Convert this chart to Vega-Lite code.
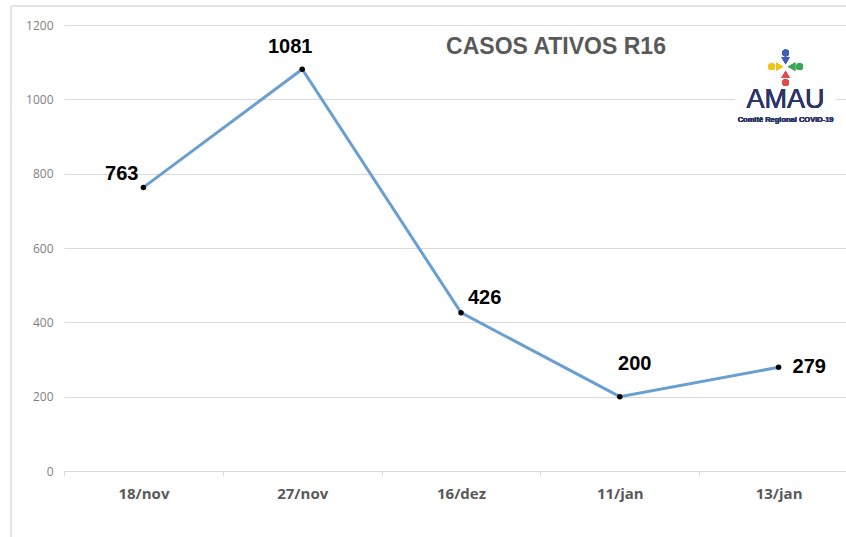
{
  "$schema": "https://vega.github.io/schema/vega-lite/v6.json",
  "width": 794,
  "height": 446,
  "autosize": {"type": "none"},
  "padding": {"left": 64, "top": 25, "right": 0, "bottom": 66},
  "background": "white",
  "config": {"view": {"stroke": null}, "font": "Liberation Sans"},
  "title": {"text": "CASOS ATIVOS R16", "fontSize": 23, "fontWeight": "bold", "color": "#595959", "anchor": "middle", "dx": 95, "dy": 54, "offset": 0, "frame": "group", "font": "Liberation Sans"},
  "data": {"values": [
    {"data": "18/nov", "casos": 763},
    {"data": "27/nov", "casos": 1081},
    {"data": "16/dez", "casos": 426},
    {"data": "11/jan", "casos": 200},
    {"data": "13/jan", "casos": 279}
  ]},
  "encoding": {
    "x": {"field": "data", "type": "nominal", "sort": null,
      "scale": {"type": "band", "domain": ["18/nov", "27/nov", "16/dez", "11/jan", "13/jan"], "paddingInner": 0, "paddingOuter": 0},
      "axis": {"title": null, "labelAngle": 0, "domainColor": "#d9d9d9", "tickColor": "#d9d9d9", "tickBand": "extent", "tickSize": 5, "labelFont": "Open Sans", "labelFontSize": 15, "labelFontWeight": "bold", "labelColor": "#595959", "labelPadding": 10, "grid": false}},
    "y": {"field": "casos", "type": "quantitative",
      "scale": {"domain": [0, 1200]},
      "axis": {"title": null, "domain": false, "ticks": false, "format": "d", "gridColor": "#d9d9d9", "labelColor": "#7f7f7f", "labelFont": "Open Sans", "labelFontSize": 12, "labelPadding": 11, "values": [0, 200, 400, 600, 800, 1000, 1200]}}
  },
  "layer": [
    {"mark": {"type": "rule", "color": "#e3e3e3", "strokeWidth": 1.5, "xOffset": -53, "x2Offset": 10},
     "encoding": {"x": {"datum": "18/nov", "bandPosition": 0}, "x2": {"datum": "13/jan", "bandPosition": 1}, "y": {"datum": 1251}}},
    {"mark": {"type": "rule", "color": "#e3e3e3", "strokeWidth": 1.5, "xOffset": -53},
     "encoding": {"x": {"datum": "18/nov", "bandPosition": 0}, "y": {"datum": 1251}, "y2": {"datum": -200}}},
    {"mark": {"type": "point", "filled": true, "shape": "M-1,-0.85L1,-0.85L1,0.85L-1,0.85Z", "size": 10000, "color": "white", "opacity": 1, "xOffset": 7},
     "encoding": {"x": {"datum": "13/jan"}, "y": {"datum": 1045}}},
    {"mark": {"type": "line", "color": "#6a9fd0", "strokeWidth": 3}},
    {"mark": {"type": "point", "filled": true, "color": "black", "size": 30, "opacity": 1}},
    {"transform": [{"filter": "datum.data == '18/nov'"}],
     "mark": {"type": "text", "align": "right", "baseline": "middle", "dx": -5, "dy": -13, "fontSize": 20, "fontWeight": "bold", "color": "black"},
     "encoding": {"text": {"field": "casos"}}},
    {"transform": [{"filter": "datum.data == '27/nov'"}],
     "mark": {"type": "text", "align": "center", "baseline": "middle", "dx": -12, "dy": -22, "fontSize": 20, "fontWeight": "bold", "color": "black"},
     "encoding": {"text": {"field": "casos"}}},
    {"transform": [{"filter": "datum.data == '16/dez'"}],
     "mark": {"type": "text", "align": "left", "baseline": "middle", "dx": 7, "dy": -15, "fontSize": 20, "fontWeight": "bold", "color": "black"},
     "encoding": {"text": {"field": "casos"}}},
    {"transform": [{"filter": "datum.data == '11/jan'"}],
     "mark": {"type": "text", "align": "center", "baseline": "middle", "dx": 15, "dy": -33, "fontSize": 20, "fontWeight": "bold", "color": "black"},
     "encoding": {"text": {"field": "casos"}}},
    {"transform": [{"filter": "datum.data == '13/jan'"}],
     "mark": {"type": "text", "align": "left", "baseline": "middle", "dx": 14, "dy": 0, "fontSize": 20, "fontWeight": "bold", "color": "black"},
     "encoding": {"text": {"field": "casos"}}},
    {"mark": {"type": "text", "text": "AMAU", "align": "center", "baseline": "middle", "dx": 7, "dy": 0, "fontSize": 27, "color": "#2d3568", "font": "Liberation Sans"},
     "encoding": {"x": {"datum": "13/jan"}, "y": {"datum": 998}}},
    {"mark": {"type": "text", "text": "Comitê Regional COVID-19", "align": "center", "baseline": "middle", "dx": 7, "dy": 2, "fontSize": 7.5, "fontWeight": "bold", "color": "#2d3568", "font": "Liberation Sans"},
     "encoding": {"x": {"datum": "13/jan"}, "y": {"datum": 950}}},
    {"mark": {"type": "point", "filled": true, "shape": "circle", "size": 45, "color": "#3f5fb0", "opacity": 1, "xOffset": 7},
     "encoding": {"x": {"datum": "13/jan"}, "y": {"datum": 1125}}},
    {"mark": {"type": "point", "filled": true, "shape": "triangle-down", "size": 70, "color": "#3f5fb0", "opacity": 1, "xOffset": 7},
     "encoding": {"x": {"datum": "13/jan"}, "y": {"datum": 1104}}},
    {"mark": {"type": "point", "filled": true, "shape": "circle", "size": 45, "color": "#3aa657", "opacity": 1, "xOffset": 21},
     "encoding": {"x": {"datum": "13/jan"}, "y": {"datum": 1088}}},
    {"mark": {"type": "point", "filled": true, "shape": "triangle-left", "size": 70, "color": "#3aa657", "opacity": 1, "xOffset": 13},
     "encoding": {"x": {"datum": "13/jan"}, "y": {"datum": 1088}}},
    {"mark": {"type": "point", "filled": true, "shape": "circle", "size": 45, "color": "#e04a4a", "opacity": 1, "xOffset": 7},
     "encoding": {"x": {"datum": "13/jan"}, "y": {"datum": 1045}}},
    {"mark": {"type": "point", "filled": true, "shape": "triangle-up", "size": 70, "color": "#e04a4a", "opacity": 1, "xOffset": 7},
     "encoding": {"x": {"datum": "13/jan"}, "y": {"datum": 1067}}},
    {"mark": {"type": "point", "filled": true, "shape": "circle", "size": 45, "color": "#f0c419", "opacity": 1, "xOffset": -7},
     "encoding": {"x": {"datum": "13/jan"}, "y": {"datum": 1088}}},
    {"mark": {"type": "point", "filled": true, "shape": "triangle-right", "size": 70, "color": "#f0c419", "opacity": 1, "xOffset": 1},
     "encoding": {"x": {"datum": "13/jan"}, "y": {"datum": 1088}}}
  ]
}
